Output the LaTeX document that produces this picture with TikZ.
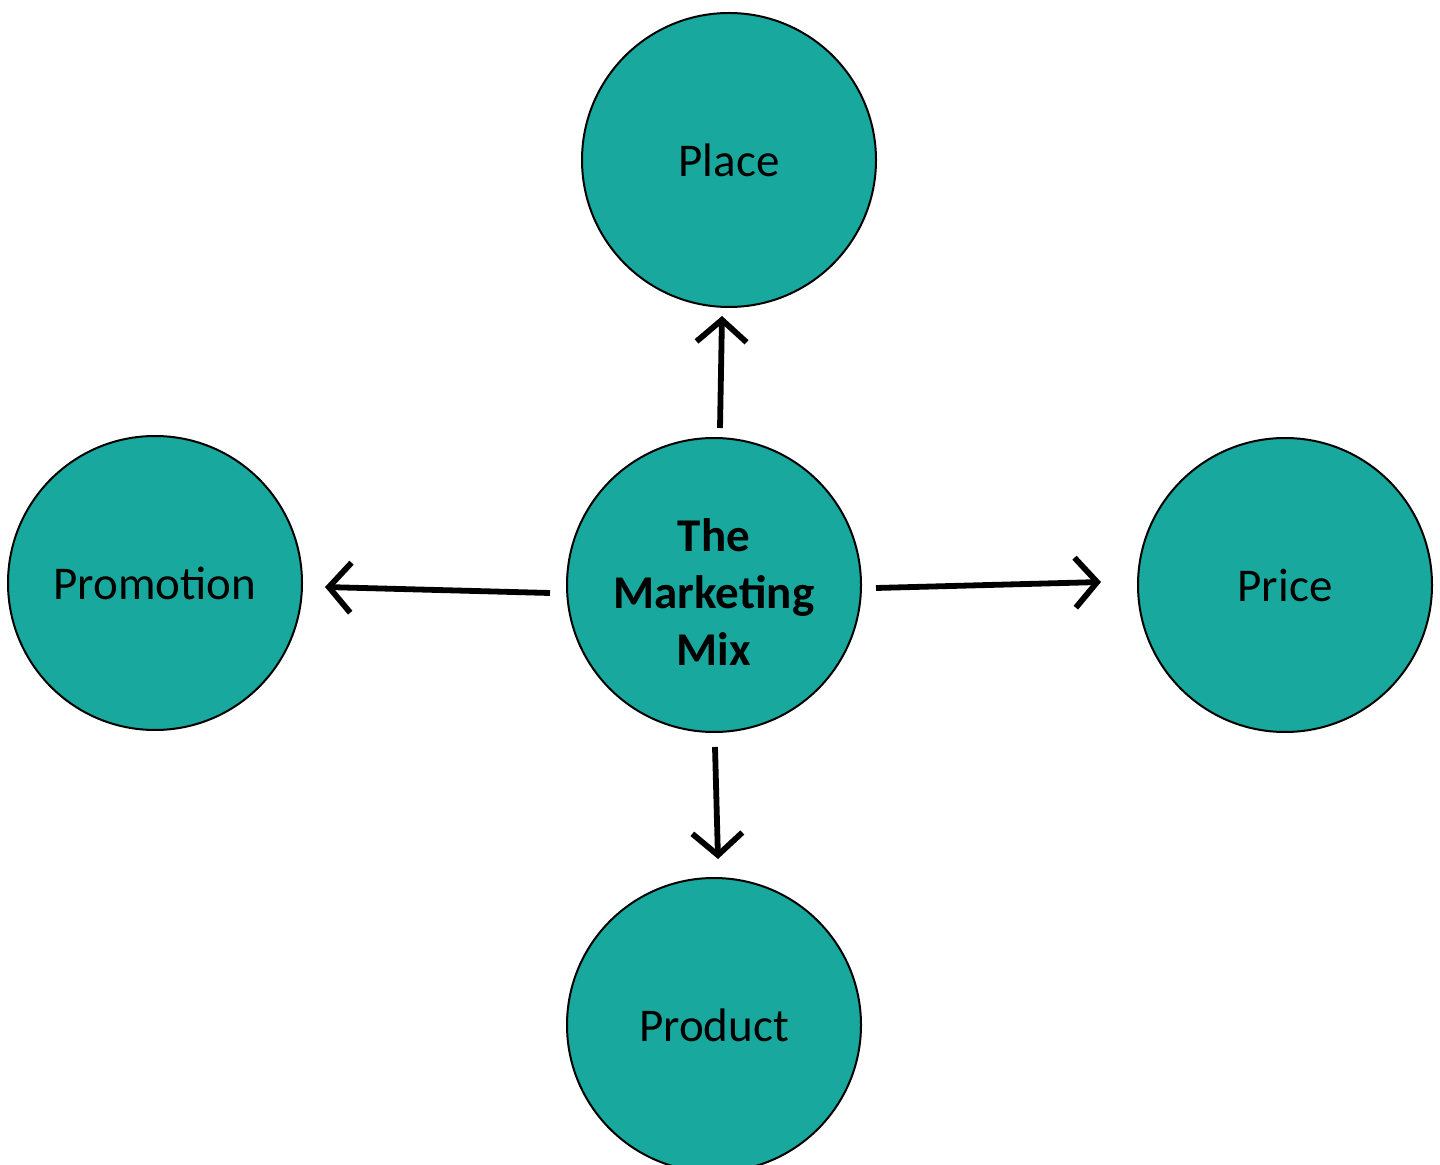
\documentclass[tikz,border=0pt]{standalone}
\usepackage{fontspec}
\setmainfont{Carlito}
\usetikzlibrary{arrows.meta}
\definecolor{tealfill}{HTML}{18A89D}
\begin{document}
\begin{tikzpicture}[x=0.5pt,y=-0.5pt,
  labelfont/.style={font=\fontsize{23.5}{28.5}\selectfont},
  ball/.style={circle,draw=black,line width=1pt,fill=tealfill,
    minimum size=147pt,inner sep=0pt,align=center,labelfont},
  link/.style={line width=2.9pt,-{Straight Barb[length=11pt,width=25pt,line width=2.9pt]}}]
  \useasboundingbox (0,0) rectangle (1440,1165);
  \node[ball] (mix) at (714,585) {};
  \node[align=center,labelfont,inner sep=0pt] (mixtext) at (714,592)
    {\textbf{The}\\\textbf{Marketing}\\\textbf{Mix}};
  \node[ball] (place) at (729,160) {Place};
  \node[ball] (promo) at (155,583) {Promotion};
  \node[ball] (price) at (1285,585) {Price};
  \node[ball] (prod) at (714,1025) {Product};
  % arrow end points in the gaps between circles
  \coordinate (u0) at (720,428); \coordinate (u1) at (722,316);
  \coordinate (r0) at (876,588); \coordinate (r1) at (1101,582);
  \coordinate (l0) at (550,593); \coordinate (l1) at (325,587);
  \coordinate (d0) at (715,747); \coordinate (d1) at (718,859);
  \draw[link] (u0) -- (u1);
  \draw[link] (r0) -- (r1);
  \draw[link] (l0) -- (l1);
  \draw[link] (d0) -- (d1);
\end{tikzpicture}
\end{document}
